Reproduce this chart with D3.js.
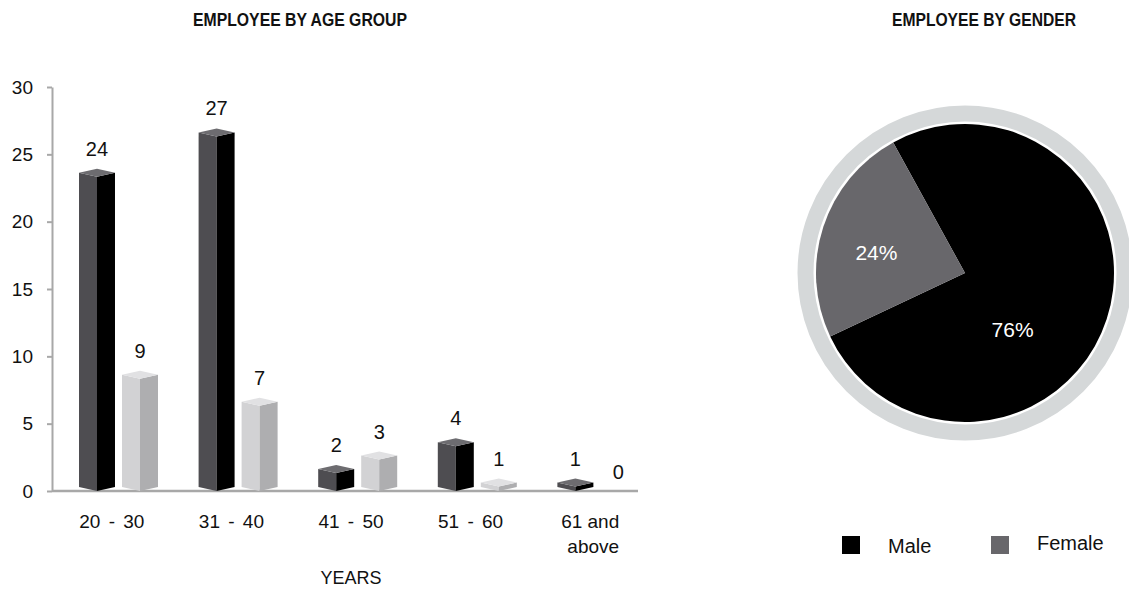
<!DOCTYPE html>
<html lang="en">
<head>
<meta charset="UTF-8">
<title>Employee by age group and gender</title>
<script src="https://d3js.org/d3.v7.min.js"></script>
<style>
    body { margin: 0; background: #fff; }
    svg text { font-family: "Liberation Sans", Arial, Helvetica, sans-serif; fill: #111; }
    .title { font-weight: bold; font-size: 19px; }
    .axis text { font-size: 19px; }
    .axis line, .axis path { stroke: #a8a8a8; }
    .x.axis text { word-spacing: 3px; }
    .x.axis text.wrapped { word-spacing: 0; }
</style>
</head>
<body>
<script>
// age groups (tick labels) and the two series per group
const ageGroups = ["20 - 30", "31 - 40", "41 - 50", "51 - 60", "61 and above"]
const seriesNames = ["dark", "light"]
const darkValues = [24, 27, 2, 4, 1]
const lightValues = [9, 7, 3, 1, 0]
const yTicks = [0, 5, 10, 15, 20, 25, 30]

// gender pie
const genders = ["Male", "Female"]
const genderShare = [76, 24]

const W = 1129, H = 589
const svg = d3.select("body").append("svg")
    .attr("width", W)
    .attr("height", H)

// ---------- bar chart ----------
const BASE = 491
const x0 = d3.scaleBand().domain(ageGroups).range([52, 650])
const x1 = d3.scaleBand().domain(seriesNames).range([27, 106]).paddingInner(0.163)
const y = d3.scaleLinear().domain([0, 30]).range([BASE, 87])

// condensed heading: squeeze Liberation Sans Bold to a narrow width
svg.append("text")
    .attr("class", "title")
    .attr("x", 300)
    .attr("y", 26)
    .attr("text-anchor", "middle")
    .attr("textLength", 214)
    .attr("lengthAdjust", "spacingAndGlyphs")
    .text("EMPLOYEE BY AGE GROUP")

// y axis
const yAxis = svg.append("g")
    .attr("class", "y axis")
    .attr("transform", "translate(52,0)")
    .call(d3.axisLeft(y).tickValues(yTicks).tickSize(5).tickSizeOuter(0).tickPadding(14))
yAxis.select(".domain").attr("stroke-width", 2)
yAxis.selectAll(".tick line").attr("stroke-width", 2)

// x axis
const xAxis = svg.append("g")
    .attr("class", "x axis")
    .attr("transform", `translate(0,${BASE})`)
    .call(d3.axisBottom(x0).tickSize(0).tickPadding(24))
xAxis.select(".domain").remove()
xAxis.append("line")
    .attr("x1", x0.range()[0]).attr("x2", x0.range()[1] - 12)
    .attr("stroke", "#a8a8a8").attr("stroke-width", 2.5)

// wrap "61 and above" onto two lines
xAxis.selectAll(".tick text").each(function(d) {
    const t = d3.select(this)
    const words = d.split(" ")
    if (words.length >= 3 && words[1] !== "-") {
        t.text(null).classed("wrapped", true)
        t.append("tspan").attr("x", 0).text(words.slice(0, 2).join(" "))
        t.append("tspan").attr("x", 3).attr("dy", "1.3em").text(words.slice(2).join(" "))
    }
})

svg.append("text")
    .attr("x", (x0.range()[0] + x0.range()[1]) / 2)
    .attr("y", 584)
    .attr("text-anchor", "middle")
    .style("font-size", "18px")
    .text("YEARS")

const palette = {
    dark: {left: "#4e4d51", right: "#000000", top: "#6d6c70"},
    light: {left: "#d2d2d4", right: "#aeaeb0", top: "#e1e1e3"}
}

const bars = []
ageGroups.forEach((g, i) => {
    bars.push({group: g, series: "dark", value: darkValues[i]})
    bars.push({group: g, series: "light", value: lightValues[i]})
})

const D = 4
const pts = p => p.map(q => q.join(",")).join(" ")

const barG = svg.append("g")
bars.forEach(b => {
    const hw = x1.bandwidth() / 2
    const cx = x0(b.group) + x1(b.series) + hw
    const yt = y(b.value) + 1
    if (b.value > 0) {
        const c = palette[b.series]
        const g = barG.append("g")
        g.append("polygon")
            .attr("points", pts([[cx - hw, yt + D], [cx, yt + 2 * D], [cx, BASE], [cx - hw, BASE - D]]))
            .attr("fill", c.left)
        g.append("polygon")
            .attr("points", pts([[cx, yt + 2 * D], [cx + hw, yt + D], [cx + hw, BASE - D], [cx, BASE]]))
            .attr("fill", c.right)
        g.append("polygon")
            .attr("points", pts([[cx, yt], [cx + hw, yt + D], [cx, yt + 2 * D], [cx - hw, yt + D]]))
            .attr("fill", c.top)
    }
    barG.append("text")
        .attr("x", cx)
        .attr("y", yt - 13)
        .attr("text-anchor", "middle")
        .style("font-size", "20px")
        .text(b.value)
})

// ---------- pie chart ----------
const CX = 965, CY = 273
const pieColor = d3.scaleOrdinal().domain(genders).range(["#000000", "#68676b"])

svg.append("text")
    .attr("class", "title")
    .attr("x", 984)
    .attr("y", 26)
    .attr("text-anchor", "middle")
    .attr("textLength", 184)
    .attr("lengthAdjust", "spacingAndGlyphs")
    .text("EMPLOYEE BY GENDER")

const pg = svg.append("g").attr("transform", `translate(${CX},${CY})`)
pg.append("circle")
    .attr("r", 159.5)
    .attr("fill", "none")
    .attr("stroke", "#d5d8d9")
    .attr("stroke-width", 16)

const pieData = d3.pie().sort(null)
    .startAngle(-0.08 * 2 * Math.PI)
    .endAngle(0.92 * 2 * Math.PI)(genderShare)
    .map((p, i) => Object.assign(p, {name: genders[i]}))

const arc = d3.arc().innerRadius(0).outerRadius(149)
pg.selectAll("path.slice")
    .data(pieData)
    .enter().append("path")
    .attr("class", "slice")
    .attr("d", arc)
    .attr("fill", d => pieColor(d.name))

// label nudges to match the original placement
const nudge = {Male: [-38, 29], Female: [-3, 7]}
const labelArc = d3.arc().innerRadius(90).outerRadius(90)
pg.selectAll("text.pct")
    .data(pieData)
    .enter().append("text")
    .attr("class", "pct")
    .attr("transform", d => {
        const c = labelArc.centroid(d)
        return `translate(${c[0] + nudge[d.name][0]},${c[1] + nudge[d.name][1]})`
    })
    .attr("text-anchor", "middle")
    .attr("dy", "0.35em")
    .style("fill", "#fff")
    .style("font-size", "21px")
    .text(d => d.value + "%")

// legend
const legend = svg.append("g").attr("transform", "translate(842,536)")
genders.forEach((g, i) => {
    const row = legend.append("g").attr("transform", `translate(${i * 149},0)`)
    row.append("rect")
        .attr("width", 18).attr("height", 18)
        .attr("fill", pieColor(g))
    row.append("text")
        .attr("x", 46)
        .attr("y", i === 0 ? 17 : 14)
        .style("font-size", "20px")
        .text(g)
})
</script>
</body>
</html>
